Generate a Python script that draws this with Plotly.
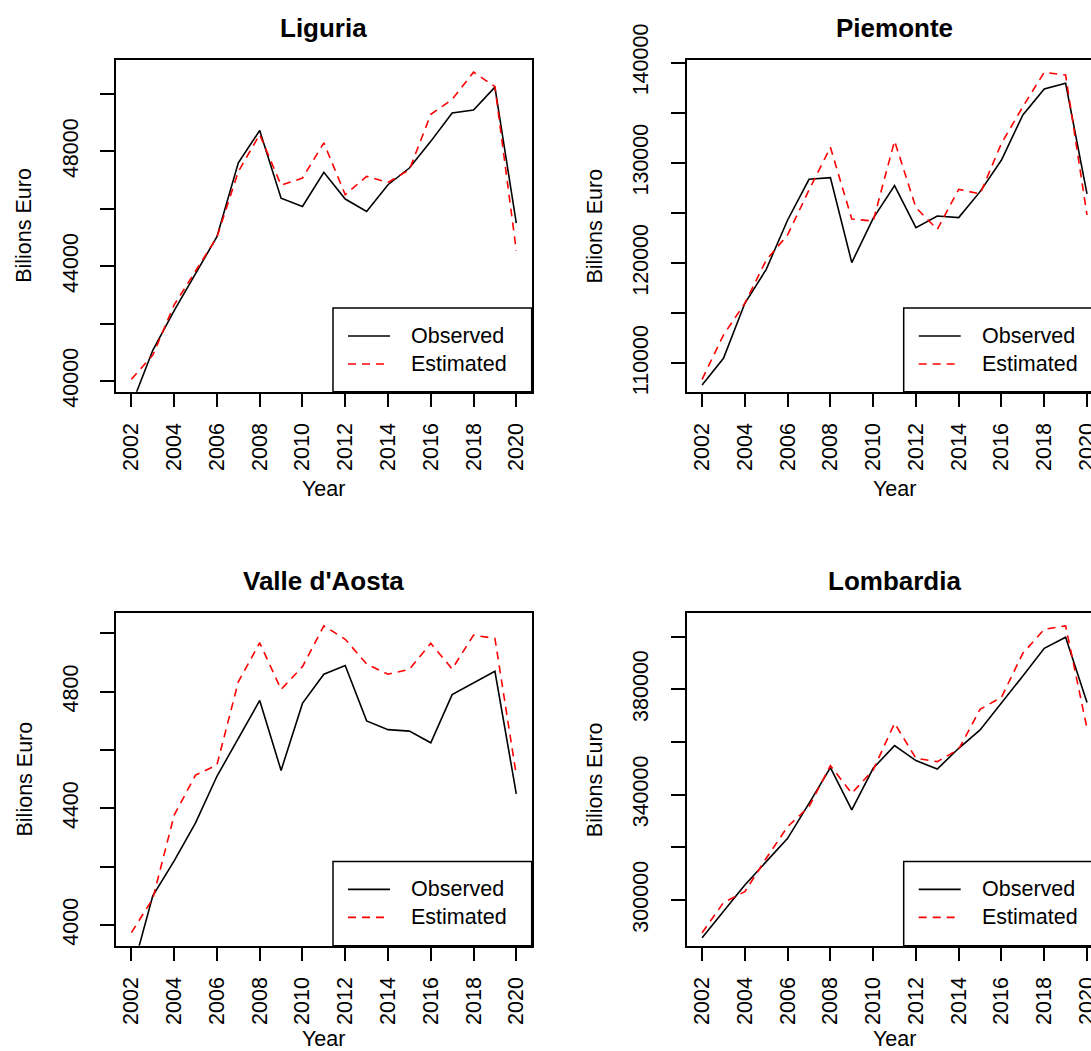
import plotly.graph_objects as go

# ---------------- data ----------------
years = list(range(2002, 2021))
x_ticks = list(range(2002, 2021, 2))

liguria_observed = [39150, 41070, 42450, 43740, 45030, 47600, 48730, 46370, 46080, 47270,
                    46340, 45910, 46840, 47420, 48350, 49340, 49440, 50240, 45500]
liguria_estimated = [40060, 40900, 42650, 43810, 45010, 47300, 48590, 46820, 47070, 48300,
                     46490, 47130, 46920, 47360, 49290, 49810, 50760, 50260, 44540]

piemonte_observed = [107840, 110500, 115990, 119380, 124300, 128360, 128530, 120050, 124470, 127730,
                     123540, 124700, 124540, 127130, 130290, 134780, 137370, 137940, 126900]
piemonte_estimated = [108400, 112830, 115990, 120310, 122810, 127300, 131550, 124400, 124200, 132190,
                      125530, 123370, 127360, 126900, 131950, 135610, 139040, 138770, 124800]

valle_observed = [3830, 4100, 4220, 4350, 4510, 4640, 4770, 4530, 4760, 4860,
                  4890, 4700, 4670, 4665, 4625, 4790, 4830, 4870, 4450]
valle_estimated = [3974, 4090, 4377, 4514, 4549, 4834, 4968, 4808, 4886, 5026,
                   4980, 4895, 4860, 4877, 4966, 4878, 4994, 4983, 4514]

lombardia_observed = [285700, 295570, 305700, 314560, 323420, 336710, 350260, 334180, 350010, 358610,
                      352920, 349750, 357600, 364570, 374690, 385070, 395580, 399760, 374950]
lombardia_estimated = [287590, 298990, 303170, 315830, 327850, 335450, 351020, 340510, 349370, 367100,
                       353800, 352540, 357220, 372410, 376970, 393680, 402800, 404060, 365200]

liguria_yticks = list(range(40000, 50001, 2000))
liguria_ylabels = ["40000", "", "44000", "", "48000", ""]
piemonte_yticks = list(range(110000, 140001, 5000))
piemonte_ylabels = ["110000", "", "120000", "", "130000", "", "140000"]
valle_yticks = list(range(4000, 5001, 200))
valle_ylabels = ["4000", "", "4400", "", "4800", ""]
lombardia_yticks = list(range(300000, 400001, 20000))
lombardia_ylabels = ["300000", "", "340000", "", "380000", ""]

panels = [
    ("Liguria", liguria_observed, liguria_estimated, liguria_yticks, liguria_ylabels, [39627, 51185]),
    ("Piemonte", piemonte_observed, piemonte_estimated, piemonte_yticks, piemonte_ylabels, [107166, 140267]),
    ("Valle d'Aosta", valle_observed, valle_estimated, valle_yticks, valle_ylabels, [3929, 5069]),
    ("Lombardia", lombardia_observed, lombardia_estimated, lombardia_yticks, lombardia_ylabels, [282650, 408853]),
]

# ---------------- layout helpers ----------------
W, H = 1091, 1051
FONT = "Liberation Sans, Arial, Helvetica, sans-serif"
FS = 21.5


def px(x):
    return x / W


def py(y):
    return 1 - y / H


col_left = [116.0, 686.7]   # plot box left edge per column (px)
col_right = [531.7, 1091.0]
col_shift = [0.0, 570.7]
row_top = [60.0, 613.3]
row_bot = [391.7, 945.7]
row_shift = [0.0, 553.4]
px_per_year = (531.7 - 116.0) / (2020.72 - 2001.28)

fig = go.Figure()
annotations = []
shapes = []

for i, (name, obs, est, yt, yl, yr) in enumerate(panels):
    r, c = divmod(i, 2)
    n = "" if i == 0 else str(i + 1)
    xa, ya = "x" + n, "y" + n

    fig.add_trace(go.Scatter(x=years, y=obs, mode="lines", name="Observed",
                             line=dict(color="black", width=1.6), xaxis=xa, yaxis=ya,
                             showlegend=False))
    fig.add_trace(go.Scatter(x=years, y=est, mode="lines", name="Estimated",
                             line=dict(color="red", width=1.6, dash="8px,6px"), xaxis=xa, yaxis=ya,
                             showlegend=False))

    x0 = 2001.28
    x1 = x0 + (col_right[c] - col_left[c]) / px_per_year
    common = dict(showgrid=False, zeroline=False, showline=True, linecolor="black", linewidth=1.5,
                  ticks="outside", ticklen=14, tickwidth=1.5, tickcolor="black",
                  tickfont=dict(family=FONT, size=FS, color="black"), automargin=False,
                  ticklabeloverflow="allow")
    fig.layout["xaxis" + n] = dict(
        domain=[px(col_left[c]), px(col_right[c])], range=[x0, x1], anchor=ya,
        tickmode="array", tickvals=x_ticks, ticktext=[str(v) for v in x_ticks],
        tickangle=-90, mirror=True, ticklabelstandoff=7, **common)
    fig.layout["yaxis" + n] = dict(
        domain=[py(row_bot[r]), py(row_top[r])], range=yr, anchor=xa,
        tickmode="array", tickvals=yt, ticktext=yl, tickangle=-90,
        mirror=(c == 0), ticklabelstandoff=14, **common)

    cx = (col_left[c] + (531.7 + col_shift[c])) / 2
    # title
    annotations.append(dict(text="<b>%s</b>" % name, x=px(cx), y=py(28 + row_shift[r]),
                            xref="paper", yref="paper", showarrow=False, xanchor="center",
                            yanchor="middle", font=dict(family=FONT, size=26, color="black")))
    # x label
    annotations.append(dict(text="Year", x=px(cx), y=py(489 + row_shift[r] - (3 if r else 0)),
                            xref="paper", yref="paper", showarrow=False, xanchor="center",
                            yanchor="middle", font=dict(family=FONT, size=FS, color="black")))
    # y label
    annotations.append(dict(text="Bilions Euro", x=px(24 + col_shift[c]),
                            y=py((row_top[r] + row_bot[r]) / 2),
                            xref="paper", yref="paper", showarrow=False, xanchor="center",
                            yanchor="middle", textangle=-90,
                            font=dict(family=FONT, size=FS, color="black")))

    # legend (bottom right, drawn manually so it can run past the page edge like the original)
    lx0 = 333 + col_shift[c]
    lx1 = 531.7 + col_shift[c]
    ly0 = 308 + row_shift[r]
    ly1 = row_bot[r]
    shapes.append(dict(type="rect", xref="paper", yref="paper", x0=px(lx0), x1=px(lx1),
                       y0=py(ly1), y1=py(ly0), line=dict(color="black", width=1.5),
                       fillcolor="white", layer="above"))
    for k, (lab, col, dash) in enumerate([("Observed", "black", "solid"),
                                          ("Estimated", "red", "8px,6px")]):
        yy = 336 + 28 * k + row_shift[r]
        shapes.append(dict(type="line", xref="paper", yref="paper",
                           x0=px(348 + col_shift[c]), x1=px(390 + col_shift[c]),
                           y0=py(yy), y1=py(yy), line=dict(color=col, width=1.6, dash=dash),
                           layer="above"))
        annotations.append(dict(text=lab, x=px(409 + col_shift[c]), y=py(yy),
                                xref="paper", yref="paper", showarrow=False, xanchor="left",
                                yanchor="middle", font=dict(family=FONT, size=FS, color="black")))

fig.update_layout(width=W, height=H, autosize=False,
                  margin=dict(l=0, r=0, t=0, b=0, pad=0),
                  paper_bgcolor="white", plot_bgcolor="white",
                  annotations=annotations, shapes=shapes, showlegend=False,
                  font=dict(family=FONT, size=FS, color="black"))

fig.write_html("out.html")
